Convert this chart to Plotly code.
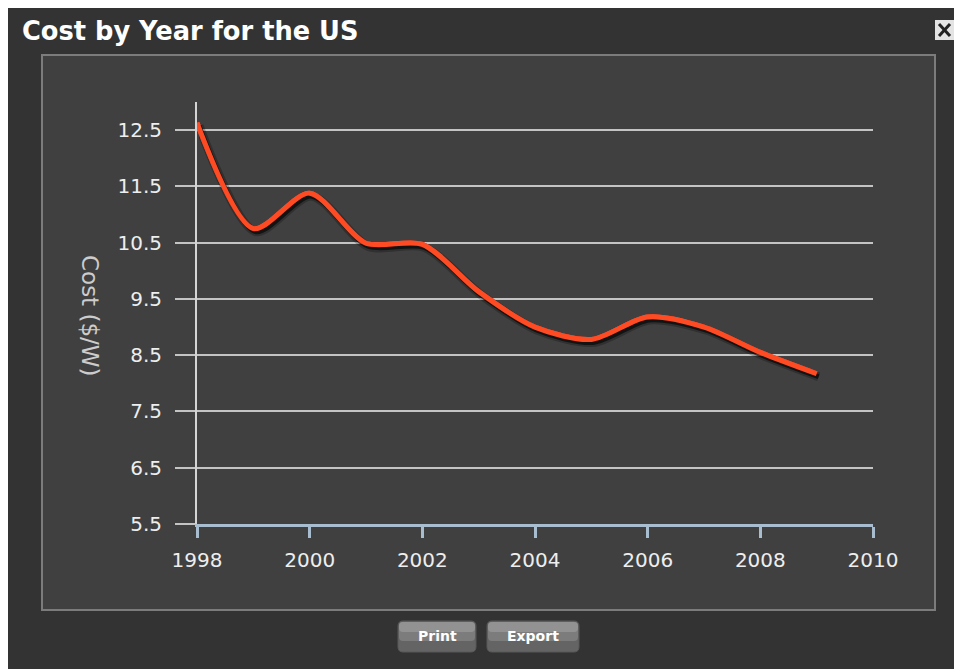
import plotly.graph_objects as go

# ---- data ----
years = [1998, 1999, 2000, 2001, 2002, 2003, 2004, 2005, 2006, 2007, 2008, 2009]
cost = [12.63, 10.75, 11.38, 10.49, 10.47, 9.63, 9.0, 8.78, 9.18, 9.0, 8.55, 8.17]
x_ticks = [1998, 2000, 2002, 2004, 2006, 2008, 2010]
y_ticks = [5.5, 6.5, 7.5, 8.5, 9.5, 10.5, 11.5, 12.5]
title_text = "Cost by Year for the US"
y_title = "Cost ($/W)"

W, H = 954, 669
# plot area in pixels
L, R, T, B = 190, 880, 95, 530
PW, PH = R - L, B - T

def px(x):
    return (x - L) / PW

def py(y):
    return (B - y) / PH

# axis domain (pixels)
AX0, AX1 = 197, 873
AY0, AY1 = 524, 102
SDX, SDY = 2, 3  # shadow offset
SMOOTH = 0.8
LINE_COLOR = "#ff4b24"

fig = go.Figure()

# base copy of the line on the visible axes (keeps the axes drawn)
fig.add_trace(go.Scatter(x=years, y=cost, mode="lines",
                         line=dict(color=LINE_COLOR, width=5, shape="spline", smoothing=SMOOTH),
                         hoverinfo="skip", showlegend=False))
# shadow traces (same data, offset axes)
fig.add_trace(go.Scatter(x=years, y=cost, mode="lines", xaxis="x2", yaxis="y2",
                         line=dict(color="rgba(0,0,0,0.25)", width=9, shape="spline", smoothing=SMOOTH),
                         hoverinfo="skip", showlegend=False))
fig.add_trace(go.Scatter(x=years, y=cost, mode="lines", xaxis="x2", yaxis="y2",
                         line=dict(color="rgba(0,0,0,0.6)", width=5, shape="spline", smoothing=SMOOTH),
                         hoverinfo="skip", showlegend=False))
# main line (drawn on top via its own invisible axes)
fig.add_trace(go.Scatter(x=years, y=cost, mode="lines", xaxis="x3", yaxis="y3",
                         line=dict(color=LINE_COLOR, width=5, shape="spline", smoothing=SMOOTH),
                         showlegend=False))

shapes = []
# outer dark box
shapes.append(dict(type="rect", xref="paper", yref="paper", layer="below",
                   x0=px(8), x1=px(954), y0=py(669), y1=py(8),
                   fillcolor="#333333", line=dict(width=0)))
# inner panel
shapes.append(dict(type="rect", xref="paper", yref="paper", layer="below",
                   x0=px(42), x1=px(935), y0=py(610), y1=py(55),
                   fillcolor="#404040", line=dict(color="#7c7c7c", width=2)))


def rounded(x0, y0, x1, y1, r):
    rx, ry = r / PW, r / PH
    a, b, c, d = px(x0), px(x1), py(y1), py(y0)  # left, right, bottom, top
    return (f"M {a+rx} {d} L {b-rx} {d} Q {b} {d} {b} {d-ry} L {b} {c+ry} "
            f"Q {b} {c} {b-rx} {c} L {a+rx} {c} Q {a} {c} {a} {c+ry} L {a} {d-ry} Q {a} {d} {a+rx} {d} Z")


buttons = [("Print", 398, 476), ("Export", 487, 579)]
for label, bx0, bx1 in buttons:
    shapes.append(dict(type="path", xref="paper", yref="paper", layer="below",
                       path=rounded(bx0, 621, bx1, 652, 5),
                       fillcolor="#646464", line=dict(color="#585858", width=1)))
    shapes.append(dict(type="path", xref="paper", yref="paper", layer="below",
                       path=rounded(bx0 + 1, 622, bx1 - 1, 641, 4),
                       fillcolor="#7c7c7c", line=dict(width=0)))
    shapes.append(dict(type="path", xref="paper", yref="paper", layer="below",
                       path=rounded(bx0 + 1, 622, bx1 - 1, 632, 4),
                       fillcolor="#929292", line=dict(width=0)))

# close button
shapes.append(dict(type="rect", xref="paper", yref="paper", layer="below",
                   x0=px(935), x1=px(954), y0=py(40), y1=py(20),
                   fillcolor="#e4e4e4", line=dict(width=0)))
shapes.append(dict(type="line", xref="paper", yref="paper",
                   x0=px(939), x1=px(950), y0=py(24), y1=py(36),
                   line=dict(color="#222222", width=3)))
shapes.append(dict(type="line", xref="paper", yref="paper",
                   x0=px(939), x1=px(950), y0=py(36), y1=py(24),
                   line=dict(color="#222222", width=3)))

annotations = [
    dict(text=f"<b>{title_text}</b>", x=px(20), y=py(31), xref="paper", yref="paper",
         xanchor="left", yanchor="middle", showarrow=False,
         font=dict(family="DejaVu Sans", size=25.7, color="#ffffff")),
    dict(text=y_title, x=px(90), y=py(316), xref="paper", yref="paper",
         xanchor="center", yanchor="middle", showarrow=False, textangle=90,
         font=dict(family="DejaVu Sans", size=23, color="#cccccc")),
]
for label, bx0, bx1 in buttons:
    annotations.append(dict(text=f"<b>{label}</b>", x=px((bx0 + bx1) / 2), y=py(636),
                            xref="paper", yref="paper", xanchor="center", yanchor="middle",
                            showarrow=False, font=dict(family="DejaVu Sans", size=14, color="#ffffff")))

xdom = [px(AX0), px(AX1)]
ydom = [py(AY0), py(AY1)]

fig.update_layout(
    width=W, height=H,
    margin=dict(l=L, r=W - R, t=T, b=H - B, pad=0),
    paper_bgcolor="#ffffff",
    plot_bgcolor="rgba(0,0,0,0)",
    shapes=shapes,
    annotations=annotations,
    showlegend=False,
    xaxis=dict(domain=xdom, range=[1998, 2010], tickvals=x_ticks, ticktext=[str(v) for v in x_ticks],
               showgrid=False, zeroline=False, showline=True, linecolor="#a9bdd0", linewidth=3,
               ticks="outside", ticklen=11, tickwidth=3, tickcolor="#a9bdd0",
               ticklabelstandoff=5,
               tickfont=dict(family="DejaVu Sans", size=20, color="#eeeeee"), anchor="y"),
    yaxis=dict(domain=ydom, range=[5.5, 13.0], tickvals=y_ticks, ticktext=[str(v) for v in y_ticks],
               showgrid=True, gridcolor="#c4c4c4", gridwidth=2, zeroline=False,
               showline=True, linecolor="#d4d4d4", linewidth=2,
               ticks="outside", ticklen=20, tickwidth=2, tickcolor="#c4c4c4",
               ticklabelstandoff=9,
               tickfont=dict(family="DejaVu Sans", size=20, color="#eeeeee"), anchor="x"),
    xaxis2=dict(domain=[px(AX0 + SDX), px(AX1 + SDX)], range=[1998, 2010], visible=False,
                showgrid=False, zeroline=False, anchor="y2"),
    yaxis2=dict(domain=[py(AY0 + SDY), py(AY1 + SDY)], range=[5.5, 13.0], visible=False,
                showgrid=False, zeroline=False, anchor="x2"),
    xaxis3=dict(domain=xdom, range=[1998, 2010], visible=False,
                showgrid=False, zeroline=False, anchor="y3"),
    yaxis3=dict(domain=ydom, range=[5.5, 13.0], visible=False,
                showgrid=False, zeroline=False, anchor="x3"),
)

fig.write_html("out.html")
